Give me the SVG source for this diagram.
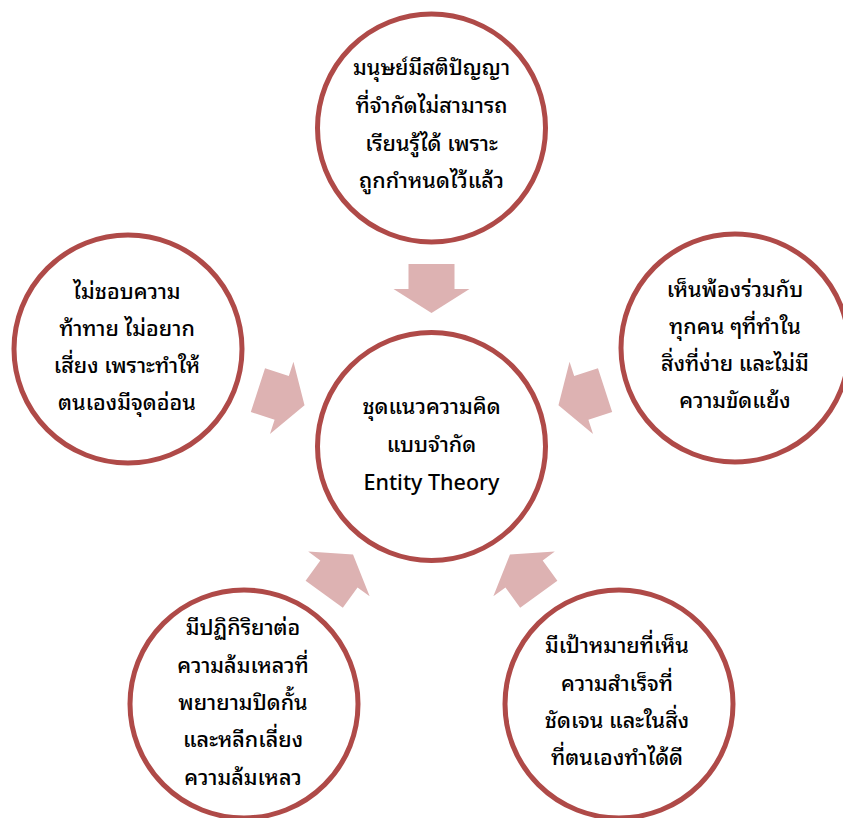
<svg xmlns="http://www.w3.org/2000/svg" width="843" height="818" viewBox="0 0 843 818">
<defs>
<style>
.node circle{fill:#FFFFFF;stroke:#AF4A48;stroke-width:5}
.arrow{fill:#DDB2B2}
text{font-family:"Noto Sans Thai Looped","Noto Sans Thai","Noto Sans","DejaVu Sans",sans-serif;font-size:21.5px;font-weight:500;fill:#000000;text-anchor:middle}
</style>
<path id="arr" d="M-23,-182.5 L23,-182.5 L23,-157.5 L38,-157.5 L0,-133.5 L-38,-157.5 L-23,-157.5 Z"/>
</defs>
<rect width="843" height="818" fill="#FFFFFF"/>
<g id="connectors" transform="translate(431.5,446.5)">
<use href="#arr" class="arrow"/>
<use href="#arr" class="arrow" transform="rotate(-72)"/>
<use href="#arr" class="arrow" transform="rotate(72)"/>
<use href="#arr" class="arrow" transform="rotate(-144)"/>
<use href="#arr" class="arrow" transform="rotate(144)"/>
</g>
<g id="node-center" class="node">
<circle cx="431.5" cy="446.5" r="114"/>
<text x="431.5" y="414">ชุดแนวความคิด</text>
<text x="431.5" y="452">แบบจำกัด</text>
<text x="431.5" y="490">Entity Theory</text>
</g>
<g id="node-top" class="node">
<circle cx="431.5" cy="128" r="114"/>
<text x="431.5" y="75">มนุษย์มีสติปัญญา</text>
<text x="431.5" y="113">ที่จำกัดไม่สามารถ</text>
<text x="431.5" y="151">เรียนรู้ได้ เพราะ</text>
<text x="431.5" y="188">ถูกกำหนดไว้แล้ว</text>
</g>
<g id="node-left" class="node">
<circle cx="128" cy="349" r="114"/>
<text x="127" y="299">ไม่ชอบความ</text>
<text x="127" y="336">ท้าทาย ไม่อยาก</text>
<text x="127" y="373">เสี่ยง เพราะทำให้</text>
<text x="127" y="410">ตนเองมีจุดอ่อน</text>
</g>
<g id="node-right" class="node">
<circle cx="735" cy="348" r="114"/>
<text x="735" y="297">เห็นพ้องร่วมกับ</text>
<text x="735" y="334">ทุกคน ๆที่ทำใน</text>
<text x="735" y="371">สิ่งที่ง่าย และไม่มี</text>
<text x="735" y="408">ความขัดแย้ง</text>
</g>
<g id="node-bottom-left" class="node">
<circle cx="244" cy="704" r="114"/>
<text x="243" y="635">มีปฏิกิริยาต่อ</text>
<text x="243" y="673">ความล้มเหลวที่</text>
<text x="243" y="710">พยายามปิดกั้น</text>
<text x="243" y="747">และหลีกเลี่ยง</text>
<text x="243" y="785">ความล้มเหลว</text>
</g>
<g id="node-bottom-right" class="node">
<circle cx="619" cy="704" r="114"/>
<text x="617" y="653">มีเป้าหมายที่เห็น</text>
<text x="617" y="691">ความสำเร็จที่</text>
<text x="617" y="728">ชัดเจน และในสิ่ง</text>
<text x="617" y="765">ที่ตนเองทำได้ดี</text>
</g>
</svg>
